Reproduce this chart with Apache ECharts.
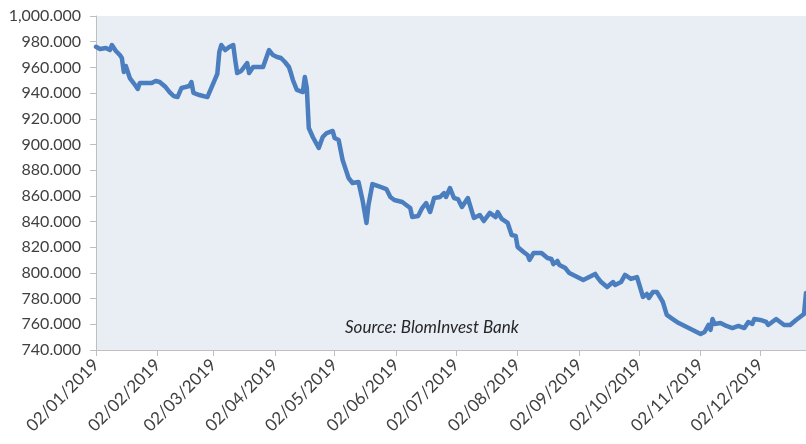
<!DOCTYPE html>
<html>
<head>
<meta charset="utf-8">
<script src="https://cdn.jsdelivr.net/npm/echarts@6/dist/echarts.min.js"></script>
<style>html,body{margin:0;padding:0;background:#fff}#c{width:806px;height:444px}</style>
</head>
<body>
<div id="c"></div>
<script>
var axisStart = '2019-01-02';
var axisEnd = '2019-12-25';
var yMin = 740, yMax = 1000, yStep = 20;
var sourceText = 'Source: BlomInvest Bank';

var dates = [
'2019-01-02','2019-01-04','2019-01-07','2019-01-09','2019-01-10','2019-01-12','2019-01-14','2019-01-15','2019-01-16','2019-01-17',
'2019-01-19','2019-01-22','2019-01-23','2019-01-24','2019-01-30','2019-02-01','2019-02-03','2019-02-06','2019-02-08','2019-02-10',
'2019-02-12','2019-02-14','2019-02-16','2019-02-18','2019-02-19','2019-02-20','2019-02-23','2019-02-27','2019-03-01','2019-03-04',
'2019-03-05','2019-03-06','2019-03-08','2019-03-10','2019-03-12','2019-03-13','2019-03-14','2019-03-16','2019-03-19','2019-03-20',
'2019-03-22','2019-03-27','2019-03-30','2019-04-01','2019-04-03','2019-04-05','2019-04-07','2019-04-09','2019-04-10','2019-04-11',
'2019-04-13','2019-04-16','2019-04-17','2019-04-18','2019-04-19','2019-04-21','2019-04-24','2019-04-26','2019-04-28','2019-05-01',
'2019-05-02','2019-05-04','2019-05-06','2019-05-09','2019-05-11','2019-05-14','2019-05-16','2019-05-18','2019-05-19','2019-05-21',
'2019-05-25','2019-05-28','2019-05-30','2019-06-01','2019-06-05','2019-06-07','2019-06-09','2019-06-10','2019-06-13','2019-06-15',
'2019-06-17','2019-06-19','2019-06-21','2019-06-24','2019-06-26','2019-06-27','2019-06-29','2019-07-01','2019-07-03','2019-07-05',
'2019-07-08','2019-07-09','2019-07-11','2019-07-14','2019-07-16','2019-07-19','2019-07-22','2019-07-23','2019-07-25','2019-07-28',
'2019-07-30','2019-08-01','2019-08-02','2019-08-05','2019-08-07','2019-08-08','2019-08-10','2019-08-14','2019-08-17','2019-08-19',
'2019-08-20','2019-08-22','2019-08-23','2019-08-26','2019-08-28','2019-09-01','2019-09-04','2019-09-07','2019-09-10','2019-09-11',
'2019-09-13','2019-09-16','2019-09-19','2019-09-20','2019-09-23','2019-09-25','2019-09-28','2019-10-01','2019-10-03','2019-10-04',
'2019-10-06','2019-10-07','2019-10-09','2019-10-11','2019-10-14','2019-10-16','2019-10-19','2019-10-22','2019-10-28','2019-11-02',
'2019-11-04','2019-11-06','2019-11-07','2019-11-08','2019-11-09','2019-11-12','2019-11-15','2019-11-18','2019-11-21','2019-11-24',
'2019-11-26','2019-11-28','2019-11-29','2019-12-02','2019-12-05','2019-12-06','2019-12-10','2019-12-11','2019-12-14','2019-12-17',
'2019-12-20','2019-12-24','2019-12-25'
];

var values = [
976.0,974.3,975.1,973.5,977.4,972.8,969.6,967.3,956.4,961.1,
951.7,945.5,943.2,947.8,947.8,949.4,948.6,944.7,940.8,937.7,
936.9,944.0,944.7,945.5,948.6,940.1,938.5,936.9,944.0,954.9,
972.0,977.4,973.5,975.9,977.4,965.7,955.6,957.2,963.4,955.6,
960.3,960.3,973.5,969.6,968.1,967.3,964.2,960.3,955.6,950.2,
942.4,940.8,952.5,944.0,912.8,905.8,897.3,905.8,908.9,910.5,
905.0,903.5,887.9,873.9,870.0,870.8,856.8,838.9,852.9,869.2,
866.9,865.3,859.1,856.8,855.2,852.9,850.5,843.5,844.3,850.5,
854.4,847.4,858.3,859.1,862.2,859.1,866.1,858.3,857.5,851.3,
858.3,852.9,842.8,845.1,840.4,846.7,843.5,847.4,842.0,838.9,
829.5,828.8,820.2,816.3,814.0,810.1,815.5,815.5,811.6,810.8,
806.9,809.3,806.2,803.8,799.9,796.8,794.5,796.8,799.2,796.8,
792.9,789.0,792.9,790.6,792.9,798.4,795.3,796.8,786.7,781.3,
783.6,780.5,785.2,785.2,777.4,767.3,764.1,761.0,756.4,752.5,
754.0,759.5,755.6,764.1,760.3,761.0,758.7,757.1,758.7,757.1,
761.8,760.3,764.1,763.4,761.8,759.5,764.1,763.4,759.5,759.5,
763.4,768.0,784.4
];

function fmt(iso) {
  var p = iso.split('-');
  return p[2] + '/' + p[1] + '/' + p[0];
}
function pad(n) { return (n < 10 ? '0' : '') + n; }

var categories = [];
(function () {
  var d = new Date(axisStart + 'T00:00:00Z');
  var end = new Date(axisEnd + 'T00:00:00Z');
  while (d <= end) {
    categories.push(pad(d.getUTCDate()) + '/' + pad(d.getUTCMonth() + 1) + '/' + d.getUTCFullYear());
    d = new Date(d.getTime() + 86400000);
  }
})();

var seriesData = dates.map(function (d, i) { return [fmt(d), values[i]]; });
function isTick(idx, val) { return val.slice(0, 3) === '02/'; }

var chart = echarts.init(document.getElementById('c'), null, {renderer: 'canvas'});
chart.setOption({
  animation: false,
  backgroundColor: '#ffffff',
  grid: {
    left: 96, right: 0, top: 16, bottom: 94,
    show: true, backgroundColor: '#E9EDF4', borderWidth: 0
  },
  xAxis: {
    type: 'category',
    data: categories,
    boundaryGap: false,
    axisLine: {show: true, lineStyle: {color: '#BFBFBF', width: 1}},
    axisTick: {show: true, interval: isTick, length: 6, lineStyle: {color: '#BFBFBF'}},
    axisLabel: {
      interval: isTick, rotate: 45, margin: 12,
      color: '#404040', fontFamily: 'Lato', fontSize: 17
    },
    splitLine: {show: false}
  },
  yAxis: {
    type: 'value',
    min: yMin, max: yMax, interval: yStep,
    axisLine: {show: true, lineStyle: {color: '#BFBFBF', width: 1}},
    axisTick: {show: true, length: 6, lineStyle: {color: '#BFBFBF'}},
    axisLabel: {
      margin: 15, color: '#404040', fontFamily: 'Lato', fontSize: 16,
      formatter: function (v) {
        return v.toLocaleString('en-US', {minimumFractionDigits: 3, maximumFractionDigits: 3});
      }
    },
    splitLine: {show: false}
  },
  graphic: [{
    type: 'text', left: 345, top: 319,
    style: {text: sourceText, font: 'italic 17px Lato', fill: '#262626'}
  }],
  series: [{
    type: 'line',
    data: seriesData,
    showSymbol: false,
    smooth: false,
    lineStyle: {color: '#4A7EBF', width: 4.5, join: 'round', cap: 'round'},
    itemStyle: {color: '#4A7EBF'}
  }]
});
</script>
</body>
</html>
